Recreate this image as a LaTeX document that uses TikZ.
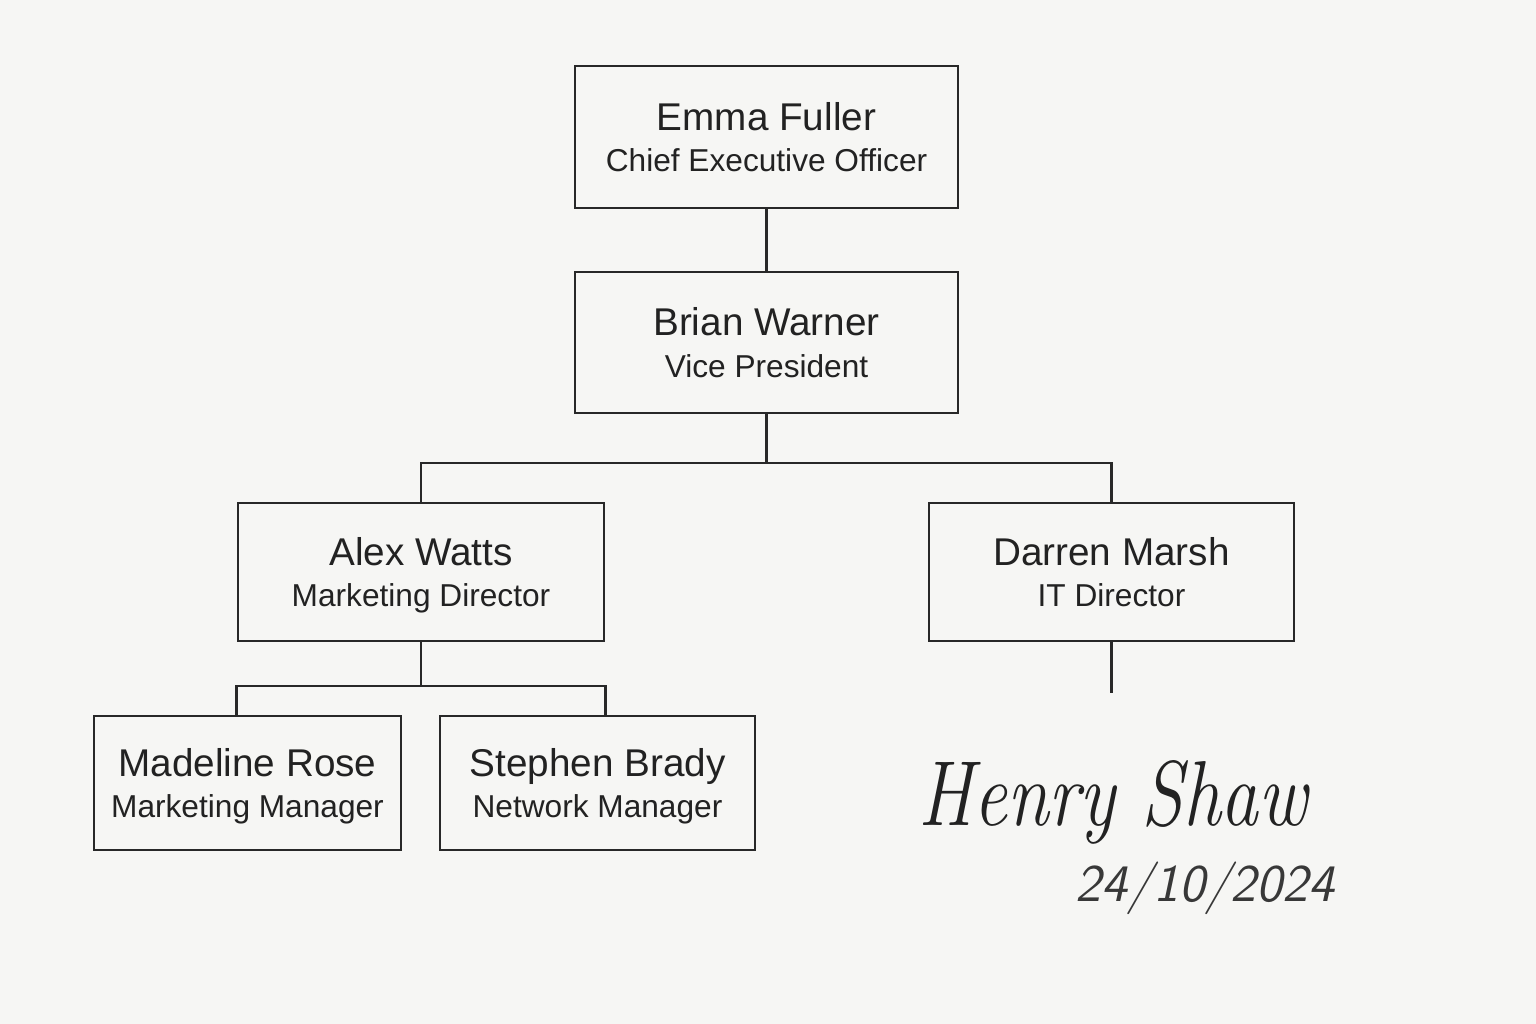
\documentclass[tikz,border=0pt]{standalone}
\usepackage{fontspec}
\usepackage{graphicx}
\usepackage{tikz}
\usetikzlibrary{positioning, calc}
\newfontfamily\boxfont{Liberation Sans}
\definecolor{paper}{RGB}{246,246,244}
\definecolor{inkgray}{RGB}{34,34,34}
\definecolor{linegray}{RGB}{40,40,40}
\newcommand{\orgname}[1]{{\fontsize{11}{12}\selectfont #1}}
\newcommand{\orgtitle}[1]{\raisebox{0pt}[\height][0pt]{#1}}
\tikzset{
  orgbox/.style={rectangle, draw=linegray, line width=0.75pt, fill=paper,
                 align=center, inner sep=0pt, text=inkgray,
                 font=\boxfont\fontsize{9}{11.9}\selectfont},
  orgline/.style={linegray, line width=0.65pt},
  signtext/.style={text=inkgray, font=\itshape\fontsize{21}{21}\selectfont, inner sep=0pt},
  datetext/.style={text=inkgray!90, font=\sffamily\itshape\fontsize{15}{15}\selectfont, inner sep=0pt},
}

\begin{document}
\begin{tikzpicture}[x=0.01cm,y=-0.01cm]

      % Paper
      \fill[paper] (0,0) rectangle (1536,1024);

      % Boxes
      \node[orgbox, minimum width=3.83cm, minimum height=1.42cm] (ceo) at (766.5,137)
            {\orgname{Emma Fuller}\\\orgtitle{Chief Executive Officer}};
      \node[orgbox, minimum width=3.83cm, minimum height=1.41cm] (vp) at (766.5,342.5)
            {\orgname{Brian Warner}\\\orgtitle{Vice President}};
      \node[orgbox, minimum width=3.66cm, minimum height=1.38cm] (mkt) at (421,572)
            {\orgname{Alex Watts}\\\orgtitle{Marketing Director}};
      \node[orgbox, minimum width=3.65cm, minimum height=1.38cm] (it) at (1111.5,572)
            {\orgname{Darren Marsh}\\\orgtitle{IT Director}};
      \node[orgbox, minimum width=3.07cm, minimum height=1.34cm] (mm) at (247.5,783)
            {\orgname{Madeline Rose}\\\orgtitle{Marketing Manager}};
      \node[orgbox, minimum width=3.15cm, minimum height=1.34cm] (nm) at (597.5,783)
            {\orgname{Stephen Brady}\\\orgtitle{Network Manager}};

      % Bus points
      \coordinate (vpbus) at (766.5,463);
      \coordinate (mktbus) at (421,686);
      \coordinate (itstub) at (1111.5,693);

      % Connectors
      \draw[orgline] (ceo.south) -- (vp.north);
      \draw[orgline] (vp.south) -- (vpbus);
      \draw[orgline] (mkt.north) |- (vpbus) -| (it.north);
      \draw[orgline] (mkt.south) -- (mktbus);
      \draw[orgline] (mm.north -| mkt.west) |- (mktbus) -| (nm.north -| mkt.east);
      \draw[orgline] (it.south) -- (itstub);

      % Signature and date
      \node[signtext] (sign) at (1113,802) {\scalebox{1.02}[1.25]{Henry Shaw}};
      \node[datetext] (date) at (1205,888) {24/10/2024};

\end{tikzpicture}
\end{document}
